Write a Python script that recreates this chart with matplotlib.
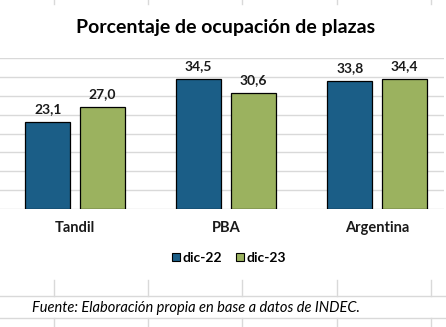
import numpy as np
import matplotlib
matplotlib.use("Agg")
import matplotlib.pyplot as plt
from matplotlib.lines import Line2D
from matplotlib.patches import Patch

categorias = ["Tandil", "PBA", "Argentina"]
dic22 = [23.1, 34.5, 33.8]
dic23 = [27.0, 30.6, 34.4]
series = ["dic-22", "dic-23"]

azul = "#1B5E87"
verde = "#9BB25F"
gris = "#D9D9D9"

plt.rcParams["font.family"] = ["Lato", "DejaVu Sans"]

W, H = 446, 327
fig = plt.figure(figsize=(W / 100, H / 100), dpi=100)
fig.patch.set_facecolor("white")

# celdas de la planilla detras del grafico
def hline(y, x0=0, x1=W):
    fig.add_artist(Line2D([x0 / W, x1 / W], [1 - y / H, 1 - y / H], color=gris, lw=1))

def vline(x, y0, y1):
    fig.add_artist(Line2D([x / W, x / W], [1 - y0 / H, 1 - y1 / H], color=gris, lw=1))

for xc in [54, 148, 242, 337, 431]:
    vline(xc, 0, 4)
    vline(xc, 280, 296)
    vline(xc, 318, 327)
hline(296)
hline(318)

# area del grafico
ax = fig.add_axes([0, (H - 209) / H, 444 / W, (209 - 58) / H])
x = np.arange(len(categorias))
ancho = 0.298
desp = 0.181
b1 = ax.bar(x - desp, dic22, ancho, color=azul, edgecolor="black", linewidth=0.9, zorder=3)
b2 = ax.bar(x + desp, dic23, ancho, color=verde, edgecolor="black", linewidth=0.9, zorder=3)

ax.set_xlim(-75 / 151, 369 / 151)
ax.set_ylim(0, 40)
ax.set_yticks(np.arange(0, 41, 5))
ax.yaxis.grid(True, color=gris, linewidth=1, zorder=0)
ax.set_axisbelow(True)
ax.tick_params(left=False, labelleft=False, bottom=False, labelbottom=False)
for s in ax.spines.values():
    s.set_visible(False)

for barras, vals in [(b1, dic22), (b2, dic23)]:
    for b, v in zip(barras, vals):
        ax.annotate(f"{v:.1f}".replace(".", ","), (b.get_x() + b.get_width() / 2, v),
                    xytext=(0, 5), textcoords="offset points", ha="center", va="bottom",
                    fontsize=10, fontweight="bold", color="#1a1a1a")

for xi, c in zip(x, categorias):
    ax.annotate(c, (xi, 0), xytext=(0, -14), textcoords="offset points", ha="center",
                va="center", fontsize=10.5, fontweight="bold", color="#1a1a1a")

fig.text(226 / W, 1 - 28 / H, "Porcentaje de ocupación de plazas", ha="center", va="center",
         fontsize=14, fontweight="bold", color="black")

handles = [Patch(facecolor=azul, edgecolor="black", linewidth=0.8),
           Patch(facecolor=verde, edgecolor="black", linewidth=0.8)]
fig.legend(handles, series, loc="center", bbox_to_anchor=(229 / W, 1 - 258 / H), ncol=2,
           frameon=False, prop={"size": 10, "weight": "bold"}, handlelength=0.55,
           handleheight=0.55, handletextpad=0.2, columnspacing=1.0)

fig.text(32 / W, 1 - 308 / H, "Fuente: Elaboración propia en base a datos de INDEC.",
         ha="left", va="center", fontsize=10.5, style="italic", color="black")

fig.savefig("out.png", dpi=100, facecolor="white")
